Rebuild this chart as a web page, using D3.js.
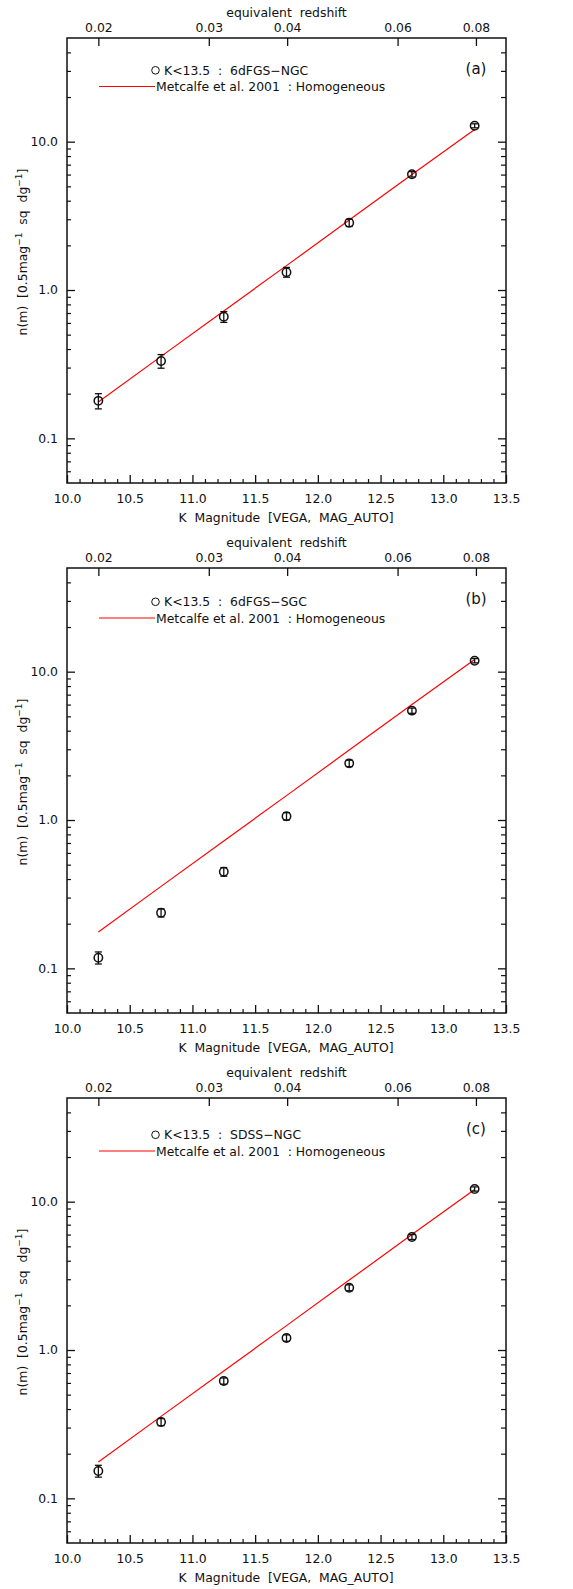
<!DOCTYPE html>
<html>
<head>
<meta charset="utf-8">
<script src="https://cdn.jsdelivr.net/npm/d3@7"></script>
<style>
  html, body { margin: 0; padding: 0; background: #fff; }
  svg { display: block; font-family: "DejaVu Sans", sans-serif; }
</style>
</head>
<body>
<svg id="chart" width="573" height="1589"></svg>
<script>
// K-band galaxy number counts per half-magnitude bin
const kMag = [10.25, 10.75, 11.25, 11.75, 12.25, 12.75, 13.25];

// Metcalfe et al. 2001 homogeneous model
const model = [0.176, 0.357, 0.723, 1.46, 2.96, 6.0, 12.1];

// Observed counts and errors for each survey region
const ngc6df    = [0.179, 0.332, 0.66, 1.32, 2.84, 6.03, 12.8];
const ngc6dfErr = [0.021, 0.035, 0.055, 0.10, 0.16, 0.25, 0.40];
const sgc6df    = [0.118, 0.237, 0.448, 1.06, 2.41, 5.46, 11.86];
const sgc6dfErr = [0.011, 0.015, 0.03, 0.06, 0.12, 0.22, 0.40];
const sdss      = [0.153, 0.327, 0.618, 1.205, 2.63, 5.78, 12.18];
const sdssErr   = [0.014, 0.018, 0.03, 0.06, 0.12, 0.22, 0.40];

const panelNames = ["6dFGS\u2212NGC", "6dFGS\u2212SGC", "SDSS\u2212NGC"];
const panelTags = ["(a)", "(b)", "(c)"];

// Axis tick values
const kMajor = [10.0, 10.5, 11.0, 11.5, 12.0, 12.5, 13.0, 13.5];
const kMinor = d3.range(10.1, 13.5, 0.1).filter(v => Math.abs(v * 2 - Math.round(v * 2)) > 1e-6);
const yMajor = [0.1, 1, 10];
const yMinor = [0.06, 0.07, 0.08, 0.09, 0.2, 0.3, 0.4, 0.5, 0.6, 0.7, 0.8, 0.9,
                2, 3, 4, 5, 6, 7, 8, 9, 20, 30, 40];
const zTicks = [0.02, 0.03, 0.04, 0.06, 0.08];

const panels = [
  { obs: ngc6df, err: ngc6dfErr },
  { obs: sgc6df, err: sgc6dfErr },
  { obs: sdss,   err: sdssErr }
];

// layout
const left = 67, right = 506, top0 = 38, bottom0 = 483, panelStep = 530;
const legendShift = [0, 1.5, 4.5];
const fs = 12.4;
const ink = "#111";

// K magnitude <-> redshift: 5 mag per dex in z, K = 10.25 at z = 0.02
const zOfK = k => 0.02 * Math.pow(10, (k - 10.25) / 5);

const svg = d3.select("#chart");

panels.forEach((p, i) => {
  const oy = i * panelStep;
  const x = d3.scaleLinear().domain([10, 13.5]).range([left, right]);
  const y = d3.scaleLog().domain([0.05, 50]).range([bottom0 + oy, top0 + oy]);
  const xTop = d3.scaleLog().domain([zOfK(10), zOfK(13.5)]).range([left, right]);

  const g = svg.append("g");

  // minor ticks
  const minorStyle = sel => {
    sel.select(".domain").remove();
    sel.selectAll("line").attr("stroke", ink).attr("stroke-width", 1.2);
  };
  g.append("g").attr("transform", `translate(0,${bottom0 + oy})`)
    .call(d3.axisBottom(x).tickValues(kMinor).tickSize(-4).tickFormat(""))
    .call(minorStyle);
  g.append("g").attr("transform", `translate(${left},0)`)
    .call(d3.axisLeft(y).tickValues(yMinor).tickSize(-4).tickFormat(""))
    .call(minorStyle);
  g.append("g").attr("transform", `translate(${right},0)`)
    .call(d3.axisRight(y).tickValues(yMinor).tickSize(-5).tickFormat(""))
    .call(minorStyle);

  // major ticks + labels
  const majorStyle = sel => {
    sel.select(".domain").remove();
    sel.attr("font-family", null).attr("font-size", fs);
    sel.selectAll("line").attr("stroke", ink).attr("stroke-width", 1.3);
    sel.selectAll("text").attr("font-size", fs).attr("fill", ink);
  };
  g.append("g").attr("transform", `translate(0,${bottom0 + oy})`)
    .call(d3.axisBottom(x).tickValues(kMajor).tickSize(-8).tickPadding(11).tickFormat(d3.format(".1f")))
    .call(majorStyle);
  g.append("g").attr("transform", `translate(0,${top0 + oy})`)
    .call(d3.axisTop(xTop).tickValues(zTicks).tickSize(-8).tickPadding(6).tickFormat(d3.format(".2f")))
    .call(majorStyle);
  g.append("g").attr("transform", `translate(${left},0)`)
    .call(d3.axisLeft(y).tickValues(yMajor).tickSize(-8).tickPadding(9).tickFormat(d3.format(".1f")))
    .call(majorStyle);
  g.append("g").attr("transform", `translate(${right},0)`)
    .call(d3.axisRight(y).tickValues(yMajor).tickSize(-8).tickFormat(""))
    .call(majorStyle);

  // frame
  g.append("rect")
    .attr("x", left).attr("y", top0 + oy)
    .attr("width", right - left).attr("height", bottom0 - top0)
    .attr("fill", "none").attr("stroke", ink).attr("stroke-width", 1.5);

  // axis titles
  g.append("text")
    .attr("x", (left + right) / 2).attr("y", oy + 17)
    .attr("text-anchor", "middle").attr("font-size", fs).attr("fill", ink)
    .attr("xml:space", "preserve")
    .text("equivalent  redshift");
  g.append("text")
    .attr("x", (left + right) / 2 - 0.5).attr("y", bottom0 + oy + 39)
    .attr("text-anchor", "middle").attr("font-size", fs).attr("fill", ink)
    .attr("xml:space", "preserve")
    .text("K  Magnitude  [VEGA,  MAG_AUTO]");

  const yl = g.append("text")
    .attr("transform", `translate(27,${oy + 252}) rotate(-90)`)
    .attr("text-anchor", "middle").attr("font-size", fs).attr("fill", ink)
    .attr("xml:space", "preserve");
  yl.append("tspan").text("n(m)  [0.5mag");
  yl.append("tspan").attr("dy", -5).attr("font-size", 9).text("\u22121");
  yl.append("tspan").attr("dy", 5).text("  sq  dg");
  yl.append("tspan").attr("dy", -5).attr("font-size", 9).text("\u22121");
  yl.append("tspan").attr("dy", 5).text("]");

  // model line
  const line = d3.line().x((d, j) => x(kMag[j])).y(d => y(d));
  g.append("path").datum(model)
    .attr("d", line)
    .attr("fill", "none").attr("stroke", "#ff0000").attr("stroke-width", 1.2);

  // observed points with error bars
  const pts = g.append("g").selectAll("g").data(p.obs).join("g");
  pts.append("line")
    .attr("x1", (d, j) => x(kMag[j])).attr("x2", (d, j) => x(kMag[j]))
    .attr("y1", (d, j) => y(d + p.err[j])).attr("y2", (d, j) => y(d - p.err[j]))
    .attr("stroke", ink).attr("stroke-width", 1.3);
  [1, -1].forEach(s => {
    pts.append("line")
      .attr("x1", (d, j) => x(kMag[j]) - 3.5).attr("x2", (d, j) => x(kMag[j]) + 3.5)
      .attr("y1", (d, j) => y(d + s * p.err[j])).attr("y2", (d, j) => y(d + s * p.err[j]))
      .attr("stroke", ink).attr("stroke-width", 1.3);
  });
  pts.append("circle")
    .attr("cx", (d, j) => x(kMag[j])).attr("cy", d => y(d))
    .attr("r", 4.2)
    .attr("fill", "none").attr("stroke", ink).attr("stroke-width", 1.5);

  // legend
  const ly1 = oy + 70.3 + legendShift[i];
  const ly2 = oy + 86.5 + legendShift[i];
  g.append("circle").attr("cx", 155.5).attr("cy", ly1).attr("r", 3.8)
    .attr("fill", "none").attr("stroke", ink).attr("stroke-width", 1);
  g.append("text").attr("x", 164).attr("y", ly1 + 4.5)
    .attr("font-size", fs).attr("fill", ink).attr("xml:space", "preserve")
    .text("K<13.5  :  " + panelNames[i]);
  g.append("line").attr("x1", 99).attr("x2", 155).attr("y1", ly2).attr("y2", ly2)
    .attr("stroke", "#ff0000").attr("stroke-width", 1.2);
  g.append("text").attr("x", 156).attr("y", ly2 + 4.5)
    .attr("font-size", fs).attr("fill", ink).attr("xml:space", "preserve")
    .text("Metcalfe et al. 2001  : Homogeneous");

  g.append("text").attr("x", 476).attr("y", oy + 74)
    .attr("text-anchor", "middle").attr("font-size", 15).attr("fill", ink)
    .text(panelTags[i]);
});
</script>
</body>
</html>
